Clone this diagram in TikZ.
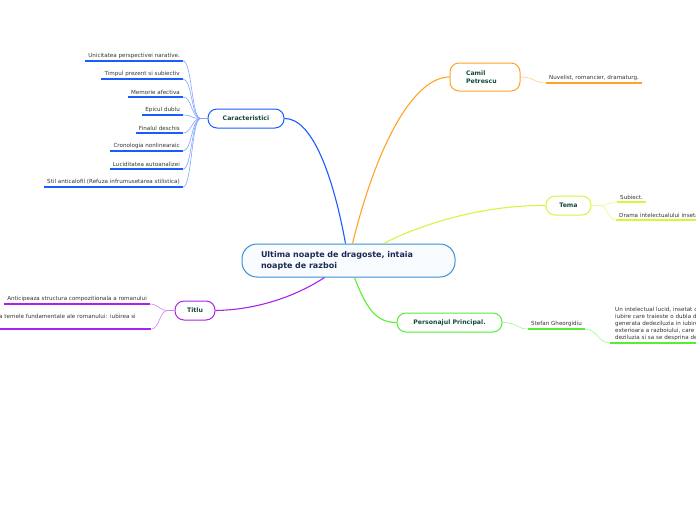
\documentclass[tikz,border=0pt]{standalone}
\usepackage{fontspec}
\setmainfont{DejaVu Sans}
\usepackage{xcolor}
\usepackage{tikz}
\usetikzlibrary{positioning}
\definecolor{mmblue}{RGB}{26,92,255}
\definecolor{mmorange}{RGB}{255,163,38}
\definecolor{mmyellow}{RGB}{214,245,60}
\definecolor{mmgreen}{RGB}{85,238,51}
\definecolor{mmpurple}{RGB}{170,34,238}
\definecolor{mmroot}{RGB}{59,143,214}
\definecolor{mmtext}{RGB}{22,74,58}
\definecolor{mmnavy}{RGB}{27,43,85}
\tikzset{
  root/.style={draw=mmroot, line width=1pt, fill=mmroot!3, rounded corners=15pt, minimum height=33pt, text width=175pt, inner xsep=19pt, align=left, font=\fontsize{8}{11}\selectfont\bfseries, text=mmnavy},
  topic/.style={draw=#1, line width=1pt, fill=white, rounded corners=9pt, minimum height=19pt, inner sep=0pt, font=\fontsize{6.2}{8.5}\selectfont\bfseries, text=mmtext},
  leaf/.style={font=\fontsize{5.6}{7}\selectfont, text=black!80, inner xsep=3pt, inner ysep=2.5pt},
  link/.style={#1, line width=1.1pt},
  sub/.style={#1!55, line width=0.6pt},
  uline/.style={#1, line width=1.5pt},
}
\begin{document}
\begin{tikzpicture}[x=1pt,y=-1pt]
  \useasboundingbox (0,0) rectangle (696,520);
  \clip (0,0) rectangle (696,520);
  % central idea and main branches
  \node[root] (root) at (348.5,260.5) {Ultima noapte de dragoste, intaia noapte de razboi};
  \node[topic=mmblue, minimum width=76pt] (car) at (246,118.5) {Caracteristici};
  \node[topic=mmorange, minimum width=70pt, minimum height=28pt, text width=38pt, inner xsep=16pt, align=left] (camil) at (485,77) {Camil\\Petrescu};
  \node[topic=mmyellow, minimum width=45pt] (tema) at (568.5,205.5) {Tema};
  \node[topic=mmgreen, minimum width=105pt] (pers) at (449.5,322.5) {Personajul Principal.};
  \node[topic=mmpurple, minimum width=40pt] (titlu) at (195,310.5) {Titlu};
  \draw[link=mmblue] ([xshift=-3pt]root.north) .. controls (333,175) and (312,118) .. (car.east);
  \draw[link=mmorange] ([xshift=4pt]root.north) .. controls (378,140) and (415,77) .. (camil.west);
  \draw[link=mmyellow] ([xshift=35pt]root.north) .. controls (430,220) and (490,205) .. (tema.west);
  \draw[link=mmgreen] ([xshift=6pt]root.south) .. controls (365,305) and (375,323) .. (pers.west);
  \draw[link=mmpurple] ([xshift=-24pt]root.south) .. controls (290,300) and (250,310) .. (titlu.east);
  % Caracteristici
  \foreach \t [count=\i] in {Unicitatea perspectivei narative., Timpul prezent si subiectiv, Memorie afectiva, Epicul dublu, Finalul deschis, Cronologia nonlinearaic, Luciditatea autoanalizei, Stil anticalofil (Refuza infrumusetarea stilistica)} {
    \node[leaf, anchor=south east] (car\i) at (183,43+18*\i) {\t};
    \draw[uline=mmblue] (car\i.south west) -- (car\i.south east);
    \draw[sub=mmblue] (car.west) -- ++(-7,0) .. controls +(-9,0) and +(9,0) .. (car\i.south east);
  }
  % Camil Petrescu
  \node[leaf, anchor=south west] (nuv) at (546,83) {Nuvelist, romancier, dramaturg.};
  \draw[uline=mmorange] (nuv.south west) -- (nuv.south east);
  \draw[sub=mmorange] (camil.east) .. controls +(14,0) and +(-12,0) .. (nuv.south west);
  % Tema
  \node[leaf, anchor=south west] (subj) at (617,202) {Subiect.};
  \node[leaf, anchor=south west, text width=84pt, align=left] (drama) at (616,220) {Drama intelectualului insetat};
  \draw[uline=mmyellow] (subj.south west) -- (subj.south east);
  \draw[uline=mmyellow] (drama.south west) -- (drama.south east);
  \draw[sub=mmyellow] (tema.east) -- ++(8,0) .. controls +(8,0) and +(-8,0) .. (subj.south west);
  \draw[sub=mmyellow] (tema.east) -- ++(8,0) .. controls +(8,0) and +(-8,0) .. (drama.south west);
  % Personajul principal
  \node[leaf, anchor=south west] (stef) at (528,329) {Stefan Gheorgidiu};
  \node[leaf, anchor=south west, text width=90pt, align=left, inner xsep=5pt] (desc) at (610,343)
    {Un intelectual lucid, insetat d\\iubire care traieste o dubla d\\generata dedeziluzia in iubire\\exterioara a razboiului, care i\\deziluzia si sa se desprina de};
  \draw[uline=mmgreen] (stef.south west) -- (stef.south east);
  \draw[uline=mmgreen] (desc.south west) -- (desc.south east);
  \draw[sub=mmgreen] (pers.east) .. controls +(16,0) and +(-12,0) .. (stef.south west);
  \draw[sub=mmgreen] (stef.south east) .. controls +(12,0) and +(-12,0) .. (desc.south west);
  % Titlu
  \node[leaf, anchor=south east] (ant) at (150,304) {Anticipeaza structura compozitionala a romanului};
  \node[leaf, anchor=south west, text width=149pt, align=left, text depth=8pt] (tem) at (-4,329) {a temele fundamentale ale romanului: iubirea si};
  \draw[uline=mmpurple] (ant.south west) -- (ant.south east);
  \draw[uline=mmpurple] (tem.south west) -- (tem.south east);
  \draw[sub=mmpurple] (titlu.west) -- ++(-7,0) .. controls +(-8,0) and +(8,0) .. (ant.south east);
  \draw[sub=mmpurple] (titlu.west) -- ++(-7,0) .. controls +(-8,0) and +(8,0) .. (tem.south east);
\end{tikzpicture}
\end{document}
